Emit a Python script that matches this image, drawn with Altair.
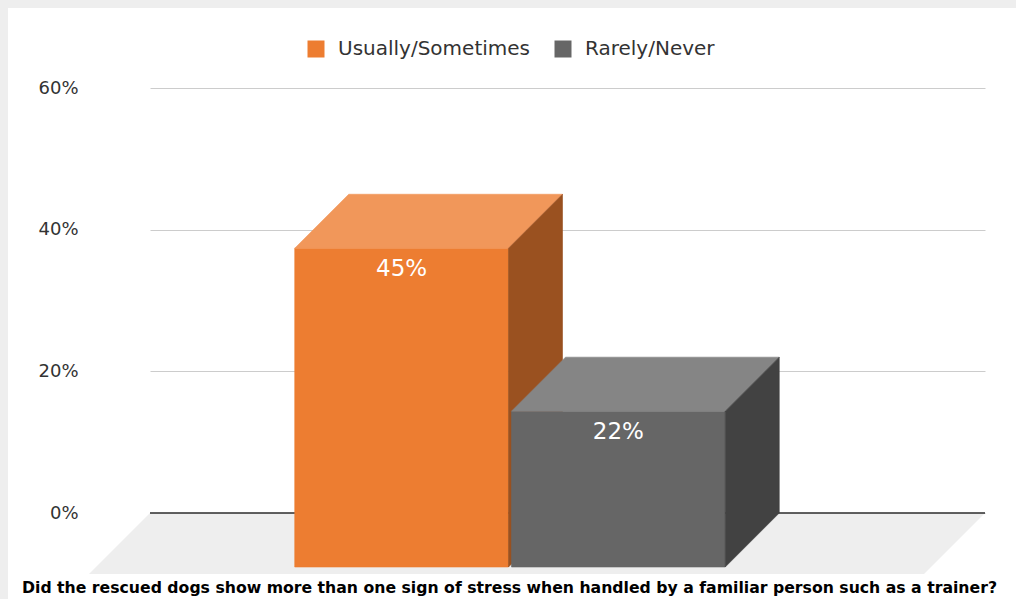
import altair as alt
import pandas as pd

# ---- data -------------------------------------------------------------
categories = ["Usually/Sometimes", "Rarely/Never"]
values = [45, 22]
front_colors = ["#ED7D31", "#666666"]
top_colors = ["#F1975A", "#858585"]
side_colors = ["#9A5120", "#424242"]
y_ticks = [0, 20, 40, 60]
question = ("Did the rescued dogs show more than one sign of stress when "
            "handled by a familiar person such as a trainer?")

# ---- geometry ---------------------------------------------------------
W, H = 835, 425            # plot area (back plane) in pixels
PAD = {"left": 150, "top": 88, "right": 31, "bottom": 86}
Y_MAX = 60
BAR_DEPTH = 54             # pseudo-3D depth of the bars, px
FLOOR_DEPTH = 61           # depth of the floor plate, px
BAR_W = 0.256              # bar width as a fraction of the plot width
BAR_GAP = 0.0036
GROUP_CENTER = 0.4958

dx = BAR_DEPTH / W
dy = BAR_DEPTH / H * Y_MAX
fdx = FLOOR_DEPTH / W
fdy = FLOOR_DEPTH / H * Y_MAX

font = "DejaVu Sans"

x_scale = alt.Scale(domain=[0, 1], nice=False, zero=False)
y_scale = alt.Scale(domain=[0, Y_MAX], nice=False, zero=False)
y_axis = alt.Axis(values=y_ticks, labelExpr="datum.value + '%'", domain=False,
                  ticks=False, labelPadding=72, labelFontSize=18,
                  labelColor="#333333", labelFont=font, grid=True,
                  gridColor="#cccccc", gridWidth=1, title=None)


def X(field="x"):
    return alt.X(f"{field}:Q", scale=x_scale, axis=None)


def Y(field="y"):
    return alt.Y(f"{field}:Q", scale=y_scale, axis=y_axis, stack=None)


# ---- page frame (thin grey strips at the top and left) -----------------
frame_top = alt.Chart(alt.Data(values=[{}])).mark_rect(color="#eeeeee").encode(
    x=alt.value(-PAD["left"]), x2=alt.value(W + PAD["right"]),
    y=alt.value(-PAD["top"]), y2=alt.value(-PAD["top"] + 8))
frame_left = alt.Chart(alt.Data(values=[{}])).mark_rect(color="#eeeeee").encode(
    x=alt.value(-PAD["left"]), x2=alt.value(-PAD["left"] + 8),
    y=alt.value(-PAD["top"]), y2=alt.value(H + PAD["bottom"]))

# ---- floor ------------------------------------------------------------
floor_df = pd.DataFrame({"y": [0, -fdy], "x": [0, -fdx], "x2": [1, 1 - fdx]})
floor = alt.Chart(floor_df).mark_area(orient="horizontal", color="#eeeeee").encode(
    y=Y(), x=X(), x2="x2:Q")

zero_line = alt.Chart(pd.DataFrame({"y": [0]})).mark_rule(
    color="#2b2b2b", strokeWidth=1.3).encode(y=Y())

# ---- bars -------------------------------------------------------------
total = 2 * BAR_W + BAR_GAP
start = GROUP_CENTER - total / 2
bar_layers = []
label_rows = []
for i, (cat, v) in enumerate(zip(categories, values)):
    left = start + i * (BAR_W + BAR_GAP)
    right = left + BAR_W

    front_df = pd.DataFrame({"category": [cat], "x": [left - dx], "x2": [right - dx],
                             "y": [-dy], "y2": [v - dy]})
    front = alt.Chart(front_df).mark_rect(stroke=front_colors[i], strokeWidth=0.6).encode(
        x=X(), x2="x2:Q", y=Y(), y2="y2:Q",
        color=alt.Color("category:N",
                        scale=alt.Scale(domain=categories, range=front_colors),
                        legend=alt.Legend(title=None)))

    top_df = pd.DataFrame({"y": [v - dy, v], "x": [left - dx, left], "x2": [right - dx, right]})
    top = alt.Chart(top_df).mark_area(
        orient="horizontal", color=top_colors[i], stroke=top_colors[i], strokeWidth=0.6
    ).encode(y=Y(), x=X(), x2="x2:Q")

    side_df = pd.DataFrame({"x": [right - dx, right], "y": [v - dy, v], "y2": [-dy, 0]})
    side = alt.Chart(side_df).mark_area(
        orient="vertical", color=side_colors[i], stroke=side_colors[i], strokeWidth=0.6
    ).encode(x=X(), y=Y(), y2="y2:Q")

    bar_layers += [front, top, side]
    label_rows.append({"x": (left + right) / 2 - dx, "y": v - dy, "label": f"{v}%"})

labels = alt.Chart(pd.DataFrame(label_rows)).mark_text(
    color="white", fontSize=23, font=font, baseline="alphabetic", dy=28).encode(
    x=X(), y=Y(), text="label:N")

title = alt.Chart(alt.Data(values=[{"t": question}])).mark_text(
    font=font, fontSize=15.7, fontWeight="bold", color="#000000",
    align="center", baseline="alphabetic").encode(
    x=alt.value(509.5 - PAD["left"]), y=alt.value(593 - PAD["top"]), text="t:N")

chart = alt.layer(frame_top, frame_left, floor, zero_line, *bar_layers, labels, title).properties(
    width=W, height=H,
    autosize=alt.AutoSizeParams(type="none"),
    padding=PAD,
    background="white",
).configure_view(strokeWidth=0).configure_legend(
    orient="none", legendX=156, legendY=-49, direction="horizontal",
    symbolType="square", symbolSize=289, symbolStrokeWidth=0, symbolOpacity=1,
    labelFontSize=20, labelFont=font, labelColor="#333333", labelOffset=12,
    labelLimit=0, columnPadding=22, padding=0,
).configure_text(font=font)

chart.save("out.html", embed_options={"renderer": "svg", "actions": False})
